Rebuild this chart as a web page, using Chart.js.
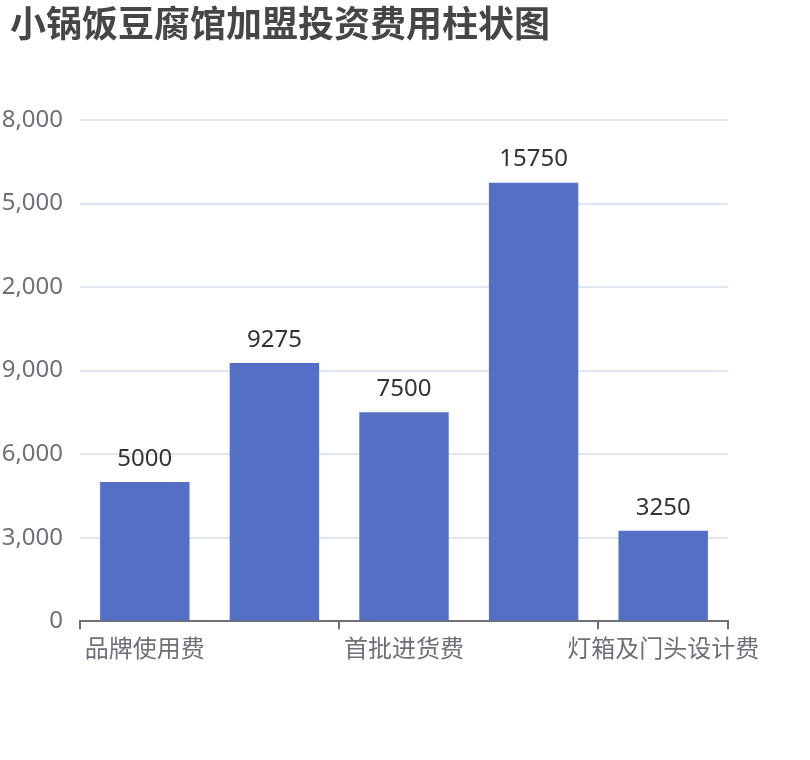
<!DOCTYPE html>
<html>
<head>
<meta charset="utf-8">
<script src="https://cdn.jsdelivr.net/npm/chart.js@4.4.0/dist/chart.umd.min.js"></script>
<style>
  html, body { margin: 0; padding: 0; background: #ffffff; }
  #wrap { width: 810px; height: 760px; position: relative; }
</style>
</head>
<body>
<div id="wrap"><canvas id="c"></canvas></div>
<script>
const titleText = '小锅饭豆腐馆加盟投资费用柱状图';
const categories = ['品牌使用费', '店面装修费', '首批进货费', '设备购置费', '灯箱及门头设计费'];
const costValues = [5000, 9275, 7500, 15750, 3250];
const yTickLabels = ['0', '3,000', '6,000', '9,000', '2,000', '5,000', '8,000'];
const yMax = 18000;
const yStep = 3000;

const FONT = "'Noto Sans', 'Noto Sans CJK SC', sans-serif";
const AXIS_COLOR = '#6e7079';

const titleDraw = {
  id: 'titleDraw',
  afterDraw(chart) {
    const ctx = chart.ctx;
    ctx.save();
    ctx.font = 'bold 36px ' + FONT;
    ctx.fillStyle = '#464646';
    ctx.textAlign = 'left';
    ctx.textBaseline = 'middle';
    ctx.fillText(titleText, 10, 27);
    ctx.restore();
  }
};

const valueLabels = {
  id: 'valueLabels',
  afterDatasetsDraw(chart) {
    const ctx = chart.ctx;
    const meta = chart.getDatasetMeta(0);
    ctx.save();
    ctx.font = '24px ' + FONT;
    ctx.fillStyle = '#333333';
    ctx.textAlign = 'center';
    ctx.textBaseline = 'middle';
    meta.data.forEach((bar, i) => {
      ctx.fillText(String(costValues[i]), bar.x, bar.y - 23);
    });
    ctx.restore();
  }
};

new Chart(document.getElementById('c'), {
  type: 'bar',
  data: {
    labels: categories,
    datasets: [{
      data: costValues,
      backgroundColor: '#5470c6',
      categoryPercentage: 1,
      barPercentage: 0.69
    }]
  },
  options: {
    responsive: true,
    maintainAspectRatio: false,
    animation: false,
    layout: { padding: { left: 0, right: 82, top: 120, bottom: 88 } },
    plugins: {
      legend: { display: false },
      tooltip: { enabled: false },
      title: { display: false }
    },
    scales: {
      x: {
        offset: true,
        grid: {
          offset: true,
          drawOnChartArea: false,
          drawTicks: true,
          tickLength: 8,
          lineWidth: 2,
          color: (c) => (c.index === undefined || c.index % 2 === 0) ? AXIS_COLOR : 'rgba(0,0,0,0)'
        },
        border: { display: true, color: AXIS_COLOR, width: 2 },
        ticks: {
          autoSkip: false,
          maxRotation: 0,
          minRotation: 0,
          padding: 7,
          color: AXIS_COLOR,
          font: { family: FONT, size: 24 },
          callback: (v, i) => (i % 2 === 0 ? categories[i] : '')
        }
      },
      y: {
        min: 0,
        max: yMax,
        afterFit: (s) => { s.width = 80; },
        grid: { color: '#e0e6f1', lineWidth: 2, drawTicks: false },
        border: { display: false },
        ticks: {
          stepSize: yStep,
          padding: 17,
          color: AXIS_COLOR,
          font: { family: FONT, size: 24 },
          callback: (v, i) => yTickLabels[i]
        }
      }
    }
  },
  plugins: [valueLabels, titleDraw]
});
</script>
</body>
</html>
